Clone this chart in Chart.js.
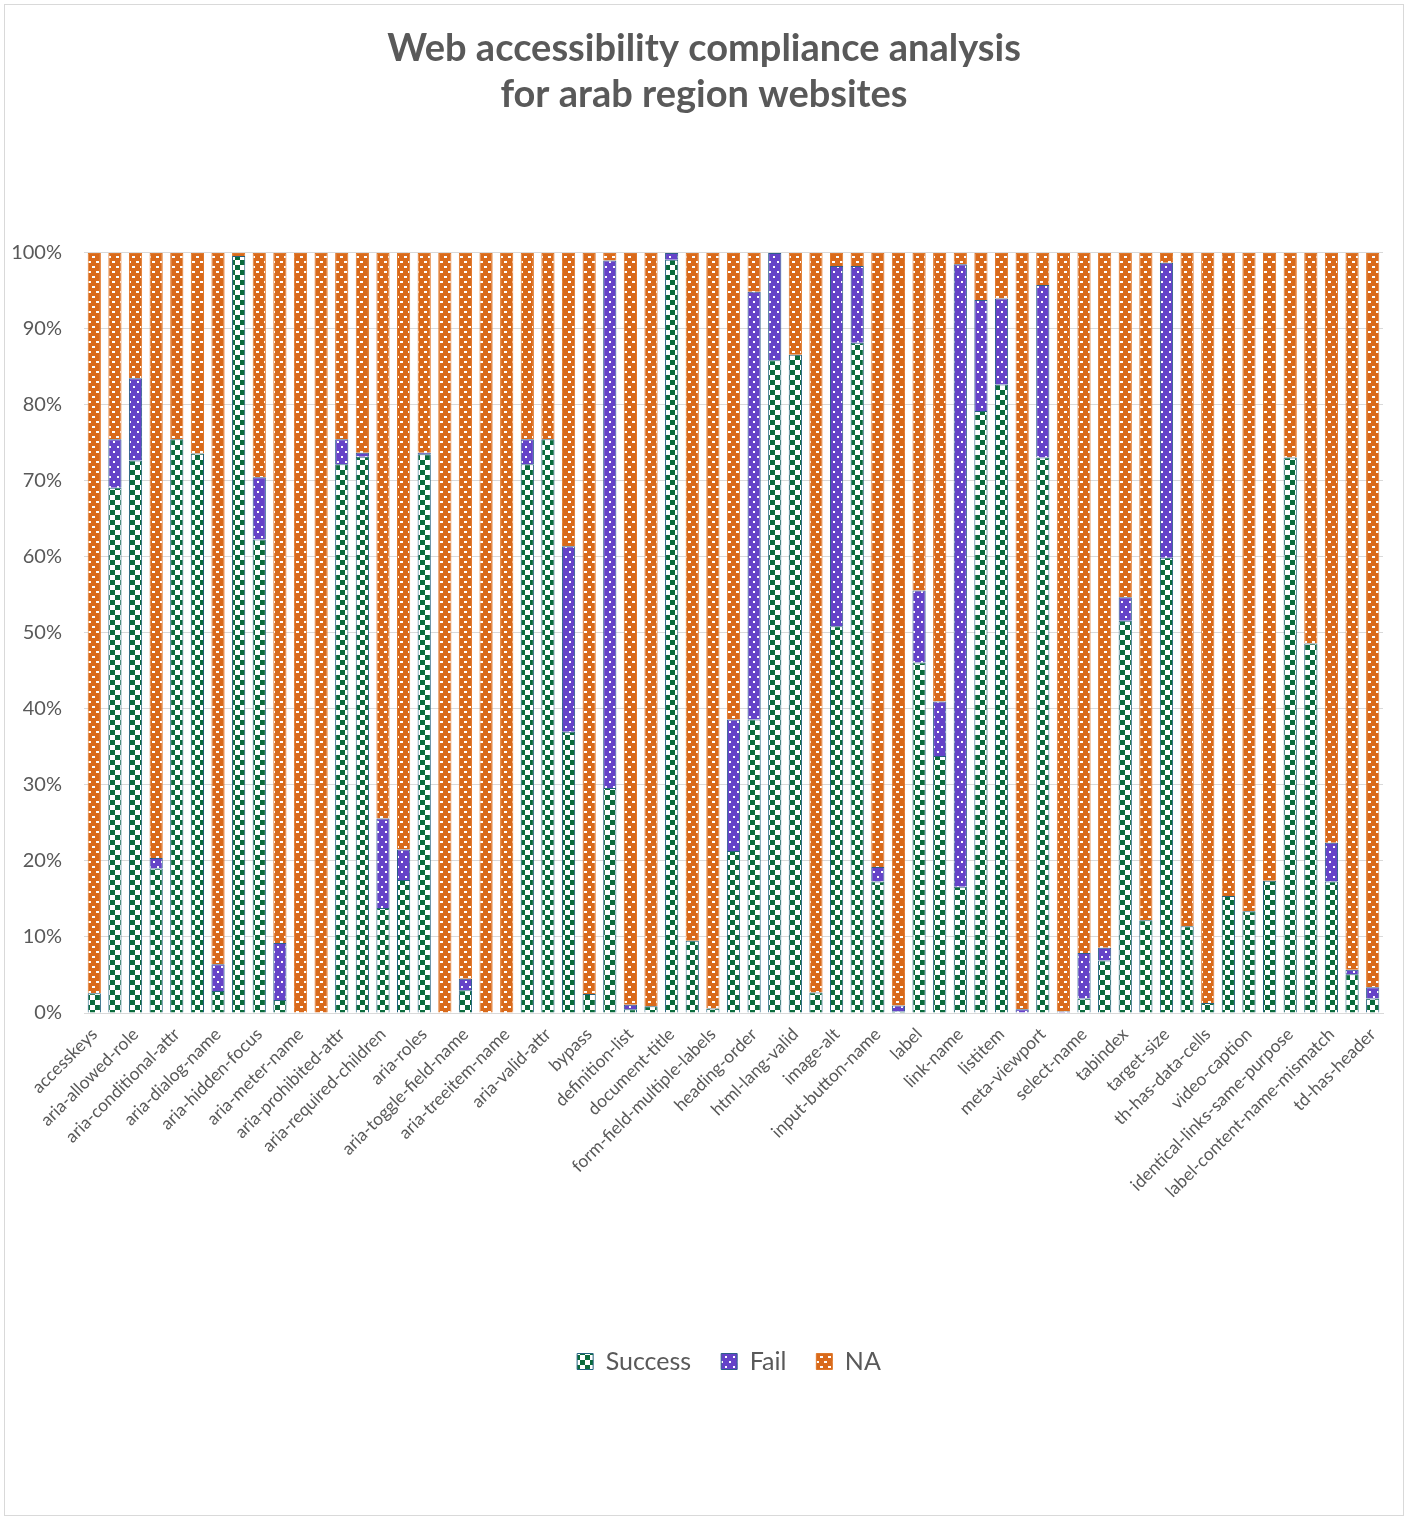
<!DOCTYPE html>
<html>
<head>
<meta charset="utf-8">
<script src="https://cdn.jsdelivr.net/npm/chart.js@4.4.1/dist/chart.umd.min.js"></script>
<style>
  body{margin:0;background:#fff;}
  #wrap{width:1408px;height:1519px;}
</style>
</head>
<body>
<div id="wrap"><canvas id="chart" width="1408" height="1519"></canvas></div>
<script>
const rules=["accesskeys","aria-allowed-attr","aria-allowed-role","aria-command-name","aria-conditional-attr","aria-deprecated-role","aria-dialog-name","aria-hidden-body","aria-hidden-focus","aria-input-field-name","aria-meter-name","aria-progressbar-name","aria-prohibited-attr","aria-required-attr","aria-required-children","aria-required-parent","aria-roles","aria-text","aria-toggle-field-name","aria-tooltip-name","aria-treeitem-name","aria-valid-attr-value","aria-valid-attr","button-name","bypass","color-contrast","definition-list","dlitem","document-title","duplicate-id-aria","form-field-multiple-labels","frame-title","heading-order","html-has-lang","html-lang-valid","html-xml-lang-mismatch","image-alt","image-redundant-alt","input-button-name","input-image-alt","label","link-in-text-block","link-name","list","listitem","meta-refresh","meta-viewport","object-alt","select-name","skip-link","tabindex","table-duplicate-name","target-size","td-headers-attr","th-has-data-cells","valid-lang","video-caption","empty-heading","identical-links-same-purpose","landmark-one-main","label-content-name-mismatch","table-fake-caption","td-has-header"];

const success=[2.6,69.1,72.7,19.0,75.5,73.6,2.9,99.6,62.3,1.7,0,0,72.2,73.2,13.8,17.5,73.5,0,3.0,0,0,72.2,75.5,37.0,2.5,29.6,0.5,0.9,99.1,9.5,0.6,21.3,38.6,85.9,86.6,2.7,50.9,88.2,17.3,0.2,46.1,33.8,16.6,79.2,82.7,0,73.1,0,1.9,6.9,51.6,12.2,59.9,11.4,1.3,15.4,13.4,17.4,73.1,48.6,17.3,5.1,1.9];
const fail=[0,6.4,10.8,1.4,0,0,3.5,0,8.2,7.5,0,0,3.3,0.5,11.8,4.0,0.2,0,1.5,0,0,3.3,0,24.4,0,69.4,0.6,0,0.9,0,0,17.3,56.3,14.1,0,0,47.4,10.1,1.9,0.8,9.5,7.2,81.9,14.6,11.3,0.5,22.7,0.2,6.0,1.7,3.1,0,38.8,0,0,0,0,0,0,0,5.1,0.6,1.5];
const na=[97.4,24.5,16.5,79.6,24.5,26.4,93.6,0.4,29.5,90.8,100,100,24.5,26.3,74.4,78.5,26.3,100,95.5,100,100,24.5,24.5,38.6,97.5,1.0,98.9,99.1,0,90.5,99.4,61.4,5.1,0,13.4,97.3,1.7,1.7,80.8,99.0,44.4,59.0,1.5,6.2,6.0,99.5,4.2,99.8,92.1,91.4,45.3,87.8,1.3,88.6,98.7,84.6,86.6,82.6,26.9,51.4,77.6,94.3,96.6];
const yTicks=[0,10,20,30,40,50,60,70,80,90,100];

const ctx=document.getElementById("chart").getContext("2d");

// small tiles like excel pattern fills
function tile(bg,w,h,draw){
  const c=document.createElement("canvas");
  c.width=w;c.height=h;
  const g=c.getContext("2d");
  g.fillStyle=bg;g.fillRect(0,0,w,h);
  g.fillStyle="#ffffff";
  draw(g);
  return ctx.createPattern(c,"repeat");
}
const greenFill=tile("#0a6b3c",10,10,g=>{g.fillRect(5,0,5,5);g.fillRect(0,5,5,5);});
const purpleFill=tile("#6543c8",8,10,g=>{g.fillRect(1,1,2,2);g.fillRect(5,6,2,2);});
const orangeFill=tile("#d96a1b",8,10,g=>{g.fillRect(0,1,3,2);g.fillRect(4,6,3,2);});

const frame={
  id:"frame",
  beforeDraw(chart){
    const c=chart.ctx;
    c.save();
    c.fillStyle="#fff";c.fillRect(0,0,chart.width,chart.height);
    c.strokeStyle="#d9d9d9";c.lineWidth=1;
    c.strokeRect(4.5,4.5,1399,1511);
    c.restore();
  }
};

// excel puts the legend a bit right of centre
const legendShift={
  id:"legendShift",
  afterLayout(chart){
    chart.legend.left+=25;
    chart.legend.right+=25;
  }
};

Chart.defaults.font.family="Lato, 'Open Sans', sans-serif";
Chart.defaults.color="#595959";

new Chart(ctx,{
  type:"bar",
  data:{
    labels:rules,
    datasets:[
      {label:"Success",data:success,backgroundColor:greenFill,borderColor:"#22607c",borderWidth:1},
      {label:"Fail",data:fail,backgroundColor:purpleFill,borderColor:"#2d5e8c",borderWidth:1},
      {label:"NA",data:na,backgroundColor:orangeFill,borderColor:"#e0782a",borderWidth:1}
    ]
  },
  options:{
    responsive:false,
    animation:false,
    barPercentage:0.64,
    categoryPercentage:1,
    layout:{padding:{left:10,right:10,top:0,bottom:135}},
    plugins:{
      title:{
        display:true,
        text:["Web accessibility compliance analysis","for arab region websites"],
        font:{size:38,weight:"bold",lineHeight:1.21},
        color:"#595959",
        padding:{top:26,bottom:135}
      },
      legend:{
        position:"bottom",
        labels:{font:{size:25},boxWidth:16,boxHeight:16,padding:30,color:"#595959"}
      },
      tooltip:{enabled:false}
    },
    scales:{
      x:{
        stacked:true,
        grid:{display:false},
        border:{color:"#d9d9d9"},
        afterFit:scale=>{
          scale.height=306;
          scale.paddingLeft=0;
          scale.paddingRight=25;
        },
        ticks:{
          autoSkip:false,
          minRotation:45,
          maxRotation:45,
          font:{size:17.5},
          color:"#595959",
          callback:(v,i)=>i%2===0?rules[i]:""
        }
      },
      y:{
        stacked:true,
        min:0,
        max:100,
        afterBuildTicks:scale=>{scale.ticks=yTicks.map(v=>({value:v}));},
        afterFit:scale=>{scale.width=74;},
        grid:{color:"#d9d9d9",drawTicks:false},
        border:{display:false},
        ticks:{font:{size:20},color:"#595959",padding:22,callback:v=>v+"%"}
      }
    }
  },
  plugins:[frame,legendShift]
});
</script>
</body>
</html>
